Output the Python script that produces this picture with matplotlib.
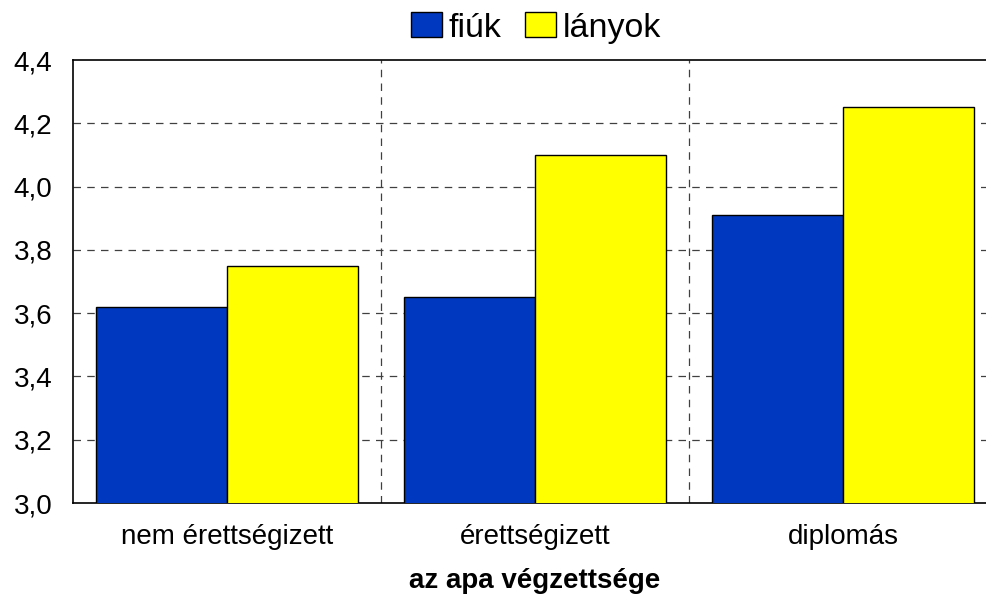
import matplotlib
matplotlib.use("Agg")
import matplotlib.pyplot as plt
import numpy as np

categories = ["nem érettségizett", "érettségizett", "diplomás"]
fiuk = [3.62, 3.65, 3.91]
lanyok = [3.75, 4.10, 4.25]
series_names = ["fiúk", "lányok"]
yticks = [3.0, 3.2, 3.4, 3.6, 3.8, 4.0, 4.2, 4.4]
ytick_labels = ["3,0", "3,2", "3,4", "3,6", "3,8", "4,0", "4,2", "4,4"]
xlabel = "az apa végzettsége"

plt.rcParams['font.family'] = ['Liberation Sans', 'DejaVu Sans']

fig = plt.figure(figsize=(9.87, 5.98), dpi=100)
ax = fig.add_axes([73/987, 1 - 503/598, 924/987, 443/598])

x = np.arange(len(categories))
w = 0.425
b1 = ax.bar(x - w/2, fiuk, w, color="#0039BF", edgecolor="black", linewidth=1, label=series_names[0], zorder=3)
b2 = ax.bar(x + w/2, lanyok, w, color="#FFFF00", edgecolor="black", linewidth=1, label=series_names[1], zorder=3)

ax.set_ylim(3.0, 4.4)
ax.set_xlim(-0.5, 2.5)
ax.set_yticks(yticks)
ax.set_yticklabels(ytick_labels, fontsize=20)
ax.set_xticks(x)
ax.set_xticklabels(categories, fontsize=20)
ax.tick_params(axis='x', length=0, pad=15)
ax.tick_params(axis='y', length=0, pad=15)

for yv in yticks[1:-1]:
    ax.axhline(yv, color="#404040", linestyle=(0, (6, 5)), linewidth=0.9, zorder=1)
for xv in [0.5, 1.5]:
    ax.axvline(xv, color="#404040", linestyle=(0, (6, 5)), linewidth=0.9, zorder=1)

for s in ax.spines.values():
    s.set_linewidth(1.2)
    s.set_color("black")

ax.set_xlabel(xlabel, fontsize=20, fontweight="bold", labelpad=13)

fig.legend(handles=[b1, b2], labels=series_names, loc="center", bbox_to_anchor=(536/987, 1 - 28/598),
           ncol=2, frameon=False, fontsize=24.5, handlelength=0.9, handleheight=0.72,
           handletextpad=0.2, columnspacing=0.7, borderpad=0)

fig.savefig("out.png", dpi=100)
